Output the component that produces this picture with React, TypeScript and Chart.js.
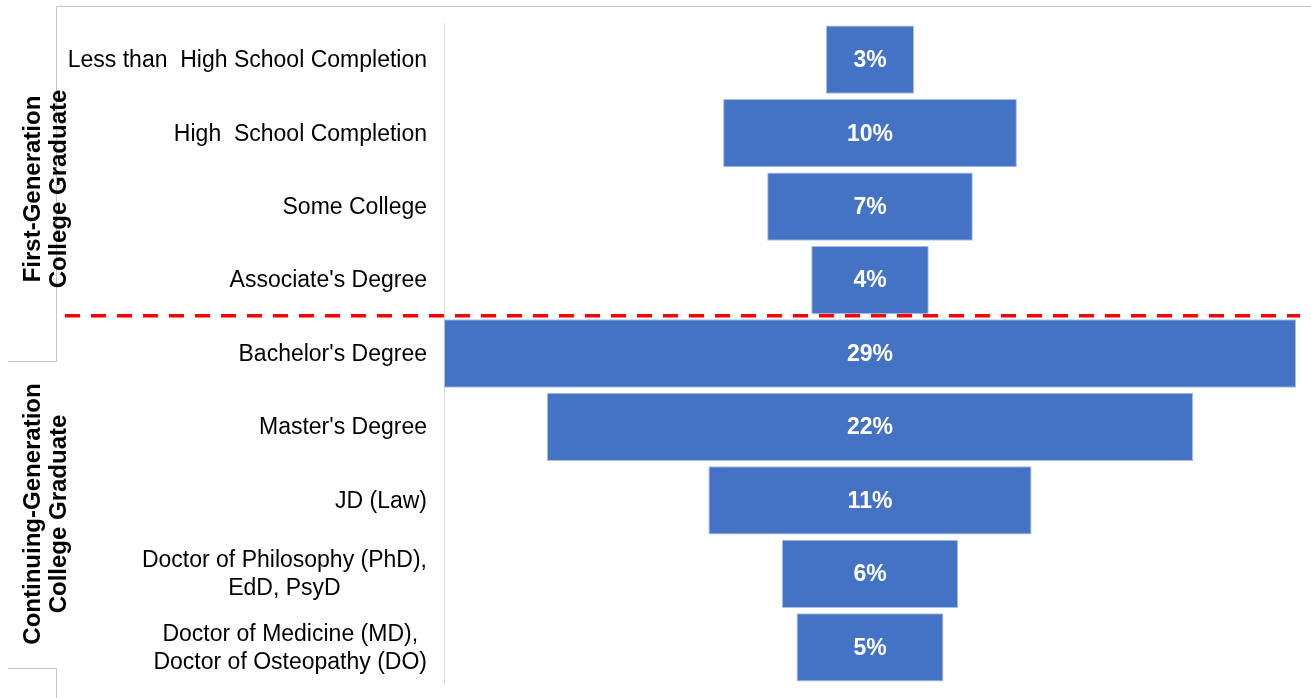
import React, { useEffect, useRef } from "react";
import { Chart, registerables } from "chart.js";

Chart.register(...registerables);

// Education levels, top to bottom; multi-line labels are given as arrays of lines
const categories: string[][] = [
  ["Less than  High School Completion"],
  ["High  School Completion"],
  ["Some College"],
  ["Associate's Degree"],
  ["Bachelor's Degree"],
  ["Master's Degree"],
  ["JD (Law)"],
  ["Doctor of Philosophy (PhD),", "EdD, PsyD"],
  ["Doctor of Medicine (MD),", "Doctor of Osteopathy (DO)"],
];

// Share of respondents (%) for each level
const shares: number[] = [3, 10, 7, 4, 29, 22, 11, 6, 5];

// Group headings shown sideways on the left
const groupNames: string[][] = [
  ["First-Generation", "College Graduate"],
  ["Continuing-Generation", "College Graduate"],
];

// Category position of the dashed divider between the two groups
const dividerAt = 3.5;

const FONT = "'Liberation Sans', Arial, Helvetica, sans-serif";
const BAR_BLUE = "#4472C4";

const funnelOverlay = {
  id: "funnelOverlay",
  beforeDraw(chart: any) {
    const { ctx } = chart;
    ctx.save();
    ctx.strokeStyle = "#c4c4c4";
    ctx.lineWidth = 1;
    ctx.beginPath();
    // outer frame and group cell edges
    ctx.moveTo(56.5, 698);
    ctx.lineTo(56.5, 668.5);
    ctx.lineTo(8, 668.5);
    ctx.moveTo(8, 361.5);
    ctx.lineTo(56.5, 361.5);
    ctx.lineTo(56.5, 6.5);
    ctx.lineTo(1311, 6.5);
    ctx.stroke();
    ctx.restore();
  },
  afterDatasetsDraw(chart: any) {
    const { ctx, chartArea } = chart;
    const yScale = chart.scales.y;
    const meta = chart.getDatasetMeta(0);

    ctx.save();

    // value labels inside the bars
    ctx.fillStyle = "#ffffff";
    ctx.font = `bold 23px ${FONT}`;
    ctx.textAlign = "center";
    ctx.textBaseline = "middle";
    meta.data.forEach((bar: any, i: number) => {
      const c = bar.getCenterPoint();
      ctx.fillText(`${shares[i]}%`, c.x, c.y + 1);
    });

    // category labels, block right-aligned, lines centred within the block
    ctx.fillStyle = "#000000";
    ctx.font = `23px ${FONT}`;
    const rightEdge = chartArea.left - 17;
    const lineH = 28;
    categories.forEach((lines, i) => {
      const yc = yScale.getPixelForValue(i);
      const widths = lines.map((l) => ctx.measureText(l).width);
      const maxW = Math.max(...widths);
      const cx = rightEdge - maxW / 2;
      lines.forEach((line, j) => {
        const y = yc + (j - (lines.length - 1) / 2) * lineH + 1;
        ctx.fillText(line, cx, y);
      });
    });

    // dashed divider between the two groups
    const yd = yScale.getPixelForValue(dividerAt) - 1;
    ctx.strokeStyle = "#ff0000";
    ctx.lineWidth = 3.5;
    ctx.setLineDash([15, 11]);
    ctx.beginPath();
    ctx.moveTo(65, yd);
    ctx.lineTo(1300, yd);
    ctx.stroke();
    ctx.setLineDash([]);

    // sideways group headings
    const headingCentres = [189, 514];
    const headingCols = [33, 59];
    ctx.font = `bold 24px ${FONT}`;
    groupNames.forEach((lines, g) => {
      ctx.save();
      ctx.translate(0, headingCentres[g]);
      ctx.rotate(-Math.PI / 2);
      lines.forEach((line, j) => {
        ctx.fillText(line, 0, headingCols[j]);
      });
      ctx.restore();
    });

    ctx.restore();
  },
};

export default function App() {
  const canvasRef = useRef<HTMLCanvasElement | null>(null);

  useEffect(() => {
    const canvas = canvasRef.current;
    if (!canvas) return;
    const half = 14.5;
    const chart = new Chart(canvas, {
      type: "bar",
      data: {
        labels: categories.map((l) => l.join(" ")),
        datasets: [
          {
            data: shares.map((v) => [-v / 2, v / 2]) as any,
            backgroundColor: BAR_BLUE,
            borderColor: "#a9bde3",
            borderWidth: 1,
            borderSkipped: false,
            barPercentage: 0.93,
            categoryPercentage: 1,
          },
        ],
      },
      options: {
        indexAxis: "y",
        responsive: false,
        animation: false,
        layout: { padding: { top: 23, bottom: 14, right: 15, left: 0 } },
        plugins: {
          legend: { display: false },
          tooltip: { enabled: false },
        },
        scales: {
          x: {
            display: false,
            min: -half,
            max: half,
          },
          y: {
            type: "category",
            grid: { display: false },
            border: { display: true, color: "#d9d9d9", width: 1 },
            ticks: { display: false },
            afterFit: (scale: any) => {
              scale.width = 444;
            },
          },
        },
      } as any,
      plugins: [funnelOverlay],
    });
    return () => chart.destroy();
  }, []);

  return (
    <div style={{ position: "absolute", left: 0, top: 0, width: 1311, height: 698, background: "#ffffff" }}>
      <canvas ref={canvasRef} width={1311} height={698} style={{ display: "block" }} />
    </div>
  );
}
